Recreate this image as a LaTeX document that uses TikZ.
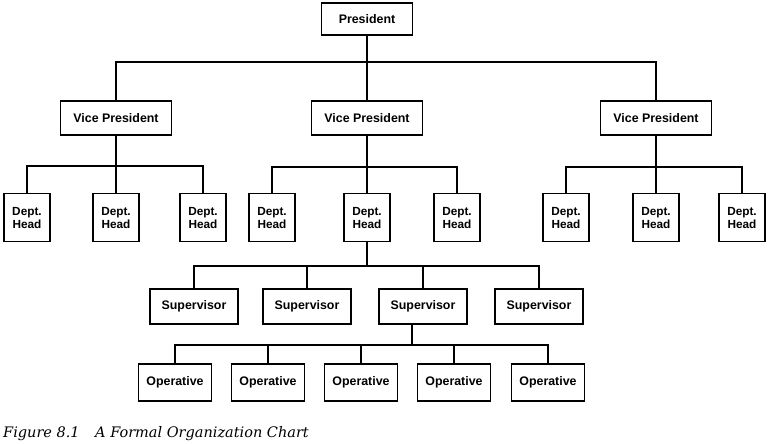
\documentclass[tikz,border=0pt]{standalone}
\usepackage{fontspec}
\setmainfont{Liberation Sans}
\newfontfamily\capfont{DejaVu Serif}
\usepackage{tikz}

\begin{document}
\begin{tikzpicture}[x=1pt, y=-1pt,
  office/.style={draw, line width=1.4pt, inner sep=0pt, font=\fontsize{12.4}{14}\selectfont\bfseries},
  vp/.style={office, minimum width=111pt, minimum height=34pt},
  head/.style={office, minimum width=46pt, minimum height=48pt, align=center,
    font=\fontsize{11.8}{13}\selectfont\bfseries},
  sup/.style={office, minimum width=88pt, minimum height=35pt},
  oper/.style={office, minimum width=73pt, minimum height=37pt},
  link/.style={line width=1.1pt},
  caption/.style={anchor=base west, inner sep=0pt, font=\capfont\itshape\fontsize{14.5}{17}\selectfont}]

  \useasboundingbox (0,0) rectangle (768,444);

  %% top
  \node[office, minimum width=91pt, minimum height=32pt] (P) at (367,19) {President};
  \node[vp] (VPa) at (116,118) {Vice President};
  \node[vp] (VPb) at (367,118) {Vice President};
  \node[vp] (VPc) at (656,118) {Vice President};

  %% dept heads
  \node[head] (Ha1) at (27,217.5) {Dept.\\Head};
  \node[head] (Ha2) at (116,217.5) {Dept.\\Head};
  \node[head] (Ha3) at (203,217.5) {Dept.\\Head};
  \node[head] (Hb1) at (272,217.5) {Dept.\\Head};
  \node[head] (Hb2) at (367,217.5) {Dept.\\Head};
  \node[head] (Hb3) at (457,217.5) {Dept.\\Head};
  \node[head] (Hc1) at (566,217.5) {Dept.\\Head};
  \node[head] (Hc2) at (656,217.5) {Dept.\\Head};
  \node[head] (Hc3) at (742,217.5) {Dept.\\Head};

  %% supervisors
  \node[sup] (S1) at (194,306.5) {Supervisor};
  \node[sup] (S2) at (307,306.5) {Supervisor};
  \node[sup] (S3) at (423,306.5) {Supervisor};
  \node[sup] (S4) at (539,306.5) {Supervisor};

  %% operatives
  \node[oper] (O1) at (175,382.5) {Operative};
  \node[oper] (O2) at (268,382.5) {Operative};
  \node[oper] (O3) at (361,382.5) {Operative};
  \node[oper] (O4) at (454,382.5) {Operative};
  \node[oper] (O5) at (548,382.5) {Operative};

  %% bars
  \coordinate (barP) at (367,62);
  \coordinate (barA) at (116,166);
  \coordinate (barB) at (367,167);
  \coordinate (barC) at (656,167);
  \coordinate (barS) at (367,266);
  \coordinate (barO) at (412,345);

  \draw[link] (P) -- (VPb); % P->VP
  \draw[link] (VPa.north) |- (barP) -| (VPc.north);

  \draw[link] (VPa) -- (Ha2); %% VP->heads
  \draw[link] (Ha1.north) |- (barA) -| (Ha3.north);
  \draw[link] (VPb) -- (Hb2);
  \draw[link] (Hb1.north) |- (barB) -| (Hb3.north);
  \draw[link] (VPc) -- (Hc2);
  \draw[link] (Hc1.north) |- (barC) -| (Hc3.north);

  \draw[link] (Hb2.south) -- (barS); %% head->sup
  \draw[link] (S1.north) |- (barS) -| (S4.north);
  \draw[link] (S2.north) -- (S2.north |- barS);
  \draw[link] (S3.north) -- (S3.north |- barS);

  \draw[link] (barO |- S3.south) -- (barO); %% sup->op
  \draw[link] (O1.north) |- (barO) -| (O5.north);
  \draw[link] (O2.north) -- (O2.north |- barO);
  \draw[link] (O3.north) -- (O3.north |- barO);
  \draw[link] (O4.north) -- (O4.north |- barO);

  \node[caption] (fig) at (3,437) {Figure 8.1};
  \node[caption] (title) at (95,437) {A Formal Organization Chart};

\end{tikzpicture}
\end{document}
